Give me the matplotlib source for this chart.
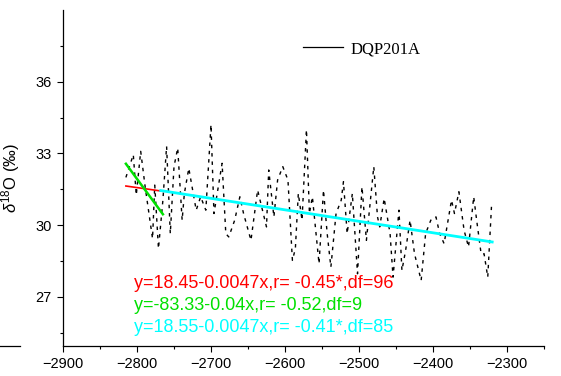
import matplotlib
matplotlib.use('Agg')
import matplotlib.pyplot as plt
from matplotlib.lines import Line2D

plt.rcParams['font.family'] = ['Liberation Sans', 'DejaVu Sans']
plt.rcParams['mathtext.fontset'] = 'custom'
plt.rcParams['mathtext.rm'] = 'Liberation Sans'
plt.rcParams['mathtext.it'] = 'Liberation Sans:italic'

# DQP201A record
years = [-2815, -2805, -2801, -2795, -2789, -2779, -2776, -2771, -2765, -2760,
         -2755, -2750, -2745, -2739, -2736, -2730, -2720, -2714, -2707, -2700,
         -2696, -2685, -2680, -2676, -2668, -2661, -2656, -2646, -2637, -2625,
         -2622, -2615, -2610, -2603, -2596, -2590, -2586, -2582, -2577, -2571,
         -2567, -2563, -2554, -2548, -2543, -2538, -2531, -2524, -2521, -2516,
         -2509, -2502, -2496, -2490, -2480, -2475, -2472, -2466, -2458, -2454,
         -2446, -2442, -2437, -2431, -2425, -2416, -2410, -2403, -2396, -2391,
         -2385, -2375, -2371, -2365, -2358, -2352, -2345, -2341, -2335, -2331,
         -2326, -2321]
d18o = [32.0, 32.95, 31.26, 33.09, 31.61, 29.44, 31.68, 29.02, 31.05, 33.3,
        29.65, 32.45, 33.23, 30.21, 31.33, 32.38, 30.63, 31.19, 30.63, 34.21,
        30.49, 32.59, 29.65, 29.51, 30.21, 31.19, 30.49, 29.37, 31.47, 29.93,
        32.31, 30.35, 31.89, 32.45, 31.89, 28.53, 29.02, 31.33, 30.21, 34.0,
        30.49, 31.19, 28.39, 31.47, 29.65, 28.25, 30.49, 31.05, 31.82, 29.65,
        31.33, 27.97, 31.61, 29.37, 32.45, 30.35, 29.93, 31.12, 29.65, 27.83,
        30.63, 28.11, 28.95, 30.21, 28.81, 27.69, 29.65, 30.21, 30.35, 29.65,
        29.23, 31.05, 30.49, 31.4, 29.79, 29.09, 31.19, 30.21, 28.81, 28.81,
        27.83, 30.77]

# fitted lines (end points as seen on the chart)
red_x, red_y = [-2815, -2765], [31.64, 31.42]
green_x, green_y = [-2815, -2765], [32.57, 30.46]
cyan_x, cyan_y = [-2768, -2320], [31.45, 29.3]

fit_texts = ['y=18.45-0.0047x,r= -0.45*,df=96',
             'y=-83.33-0.04x,r= -0.52,df=9',
             'y=18.55-0.0047x,r= -0.41*,df=85']
fit_colors = ['#ff0000', '#00e000', '#00ffff']

fig = plt.figure(figsize=(5.61, 3.76), dpi=100)
ax = fig.add_axes([63 / 561, 30 / 376, 481 / 561, 336 / 376])

ax.plot(years, d18o, color='black', lw=1.0, linestyle=(0, (2.5, 3.5)))
ax.plot(red_x, red_y, color='#ff0000', lw=1.2)
ax.plot(cyan_x, cyan_y, color='#00ffff', lw=2.0)
ax.plot(green_x, green_y, color='#00e000', lw=1.8)

ax.set_xlim(-2900, -2250)
ax.set_ylim(24.95, 39.0)
ax.set_xticks([-2900, -2800, -2700, -2600, -2500, -2400, -2300])
ax.set_xticks([-2850, -2750, -2650, -2550, -2450, -2350, -2250], minor=True)
ax.set_yticks([27, 30, 33, 36])
ax.set_yticks([25.5, 28.5, 31.5, 34.5, 37.5], minor=True)
ax.tick_params(which='major', length=4.5, width=0.8, labelsize=10.5, direction='out')
ax.tick_params(which='minor', length=2.2, width=0.8, direction='out')
for s in ['top', 'right']:
    ax.spines[s].set_visible(False)
for s in ['left', 'bottom']:
    ax.spines[s].set_linewidth(0.9)

ax.set_ylabel(r'$\delta^{18}$O (‰)', fontsize=12)
ax.yaxis.set_label_coords(-0.085, 0.5)

handle = Line2D([0], [0], color='black', lw=0.9)
ax.legend([handle], ['DQP201A'], loc='center left', bbox_to_anchor=(303 / 561, 1 - 49 / 376),
          bbox_transform=fig.transFigure, frameon=False, borderpad=0, borderaxespad=0,
          handlelength=2.4, handletextpad=0.45,
          prop={'family': 'Liberation Serif', 'size': 12})

for i, (t, c) in enumerate(zip(fit_texts, fit_colors)):
    fig.text(134 / 561, 1 - (283 + 22 * i) / 376, t, color=c, fontsize=13, va='center')

fig.add_artist(Line2D([0, 20 / 561], [30 / 376, 30 / 376], color='black', lw=0.9))

plt.savefig('out.png', dpi=100)
